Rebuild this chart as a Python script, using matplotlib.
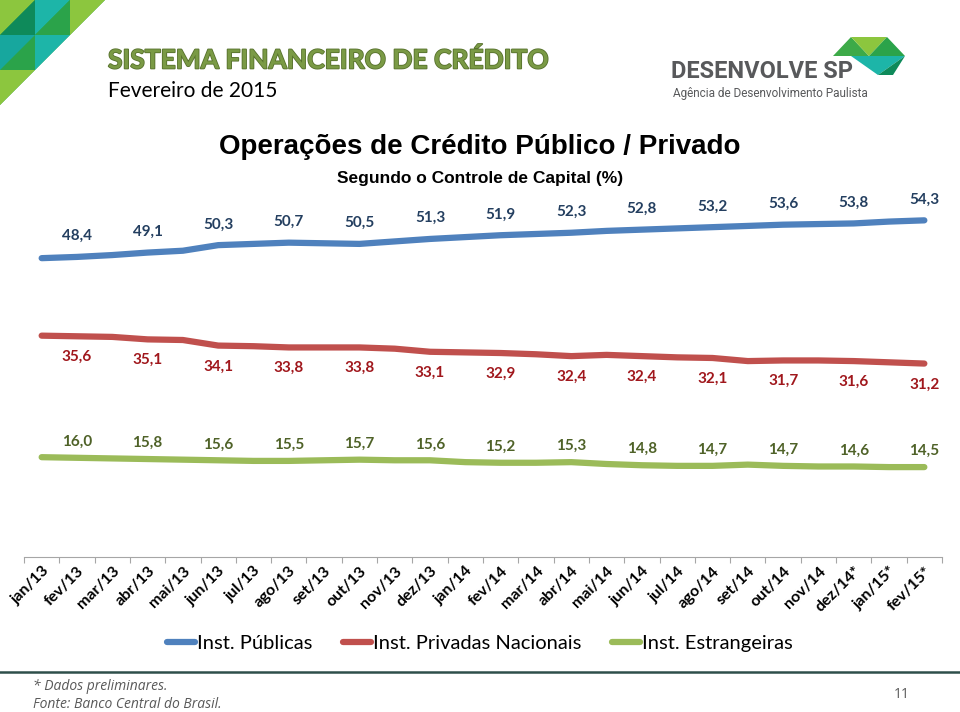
import matplotlib.pyplot as plt
from matplotlib.lines import Line2D
from matplotlib.patches import Polygon
import matplotlib.patheffects as pe

meses = ['jan/13', 'fev/13', 'mar/13', 'abr/13', 'mai/13', 'jun/13', 'jul/13', 'ago/13', 'set/13',
         'out/13', 'nov/13', 'dez/13', 'jan/14', 'fev/14', 'mar/14', 'abr/14', 'mai/14', 'jun/14',
         'jul/14', 'ago/14', 'set/14', 'out/14', 'nov/14', 'dez/14*', 'jan/15*', 'fev/15*']

publicas = [48.2, 48.4, 48.7, 49.1, 49.4, 50.3, 50.5, 50.7, 50.6, 50.5, 50.9, 51.3, 51.6,
            51.9, 52.1, 52.3, 52.6, 52.8, 53.0, 53.2, 53.4, 53.6, 53.7, 53.8, 54.1, 54.3]
privadas = [35.7, 35.6, 35.5, 35.1, 35.0, 34.1, 34.0, 33.8, 33.8, 33.8, 33.6, 33.1, 33.0,
            32.9, 32.7, 32.4, 32.6, 32.4, 32.2, 32.1, 31.6, 31.7, 31.7, 31.6, 31.4, 31.2]
estrangeiras = [16.1, 16.0, 15.9, 15.8, 15.7, 15.6, 15.5, 15.5, 15.6, 15.7, 15.6, 15.6, 15.3,
                15.2, 15.2, 15.3, 15.0, 14.8, 14.7, 14.7, 14.9, 14.7, 14.6, 14.6, 14.5, 14.5]

series = [
    ('Inst. Públicas', publicas, '#4F81BD', '#243F60', 15),
    ('Inst. Privadas Nacionais', privadas, '#C0504D', '#A0171C', -15),
    ('Inst. Estrangeiras', estrangeiras, '#9BBB59', '#4F6228', 11.5),
]

fig = plt.figure(figsize=(9.6, 7.12), dpi=100)

# decoracao em coordenadas de pixel
deco = fig.add_axes([0, 0, 1, 1], zorder=0)
deco.set_xlim(0, 960)
deco.set_ylim(712, 0)
deco.axis('off')

tri = [
    ([(0, 0), (105, 0), (0, 105)], '#2BA34A'),
    ([(0, 0), (35, 0), (0, 35)], '#8CC63E'),
    ([(35, 0), (70, 0), (35, 35)], '#1DB5A8'),
    ([(0, 35), (35, 35), (0, 70)], '#17A79E'),
    ([(35, 35), (35, 0), (0, 35)], '#0E8A5A'),
    ([(70, 0), (105, 0), (70, 35)], '#8CC63E'),
    ([(0, 70), (35, 70), (0, 105)], '#8CC63E'),
    ([(35, 35), (70, 35), (35, 70)], '#1DB5A8'),
    ([(70, 35), (70, 0), (35, 35)], '#2BA34A'),
]
for pts, c in tri:
    deco.add_patch(Polygon(pts, closed=True, color=c, lw=0))

logo = [
    ([(833, 56), (851, 37), (869, 56)], '#3DAA48'),
    ([(851, 37), (887, 37), (869, 56)], '#8CC63E'),
    ([(869, 56), (887, 37), (905, 56)], '#2BA34A'),
    ([(851, 56), (905, 56), (878, 75)], '#1DB5A8'),
    ([(878, 75), (905, 56), (893, 75)], '#0E8A5A'),
]
for pts, c in logo:
    deco.add_patch(Polygon(pts, closed=True, color=c, lw=0))

deco.text(108, 60, 'SISTEMA FINANCEIRO DE CRÉDITO', fontsize=19, fontweight='bold', family='Lato',
          color='#7A9A45', va='center', ha='left',
          path_effects=[pe.withStroke(linewidth=1.2, foreground='#56702C')])
deco.text(108, 91, 'Fevereiro de 2015', fontsize=15, family='Lato', color='black', va='center', ha='left')
deco.text(671, 72, 'DESENVOLVE SP', fontsize=17, fontweight='bold', family='Roboto', color='#58595B',
          va='center', ha='left')
deco.text(673, 93, 'Agência de Desenvolvimento Paulista', fontsize=8.5, family='Roboto', color='#58595B',
          va='center', ha='left')

deco.text(480, 147, 'Operações de Crédito Público / Privado', fontsize=20, fontweight='bold',
          family=['Liberation Sans Narrow', 'Liberation Sans'], color='black', ha='center', va='center')
deco.text(480, 178, 'Segundo o Controle de Capital (%)', fontsize=12.5, fontweight='bold',
          family=['Liberation Sans Narrow', 'Liberation Sans'], color='black', ha='center', va='center')

deco.plot([0, 960], [672, 672], color='#2E4F4A', lw=1.8)
deco.text(33, 686, '* Dados preliminares.', fontsize=10, style='italic', family='Open Sans',
          color='#595959', va='center')
deco.text(33, 705, 'Fonte: Banco Central do Brasil.', fontsize=10, style='italic', family='Open Sans',
          color='#595959', va='center')
deco.text(902, 694, '11', fontsize=10, family='Open Sans', color='#595959', va='center', ha='center')

# grafico
ax = fig.add_axes([24 / 960, (712 - 557) / 712, 918 / 960, 372 / 712], zorder=1)
ax.patch.set_alpha(0)
x = list(range(len(meses)))
handles = []
for nome, vals, cor, cor_txt, dy in series:
    ax.plot(x, vals, color=cor, lw=4.5, solid_capstyle='round', solid_joinstyle='round')
    handles.append(Line2D([0], [0], color=cor, lw=4.5, solid_capstyle='round'))
    for i in range(1, len(vals), 2):
        ax.annotate(f'{vals[i]:.1f}'.replace('.', ','), (i, vals[i]), xytext=(0, dy),
                    textcoords='offset points', ha='center', va='center', fontsize=11,
                    fontweight='bold', family='Lato', color=cor_txt)

ax.set_xlim(-0.5, len(meses) - 0.5)
ax.set_ylim(0, 60)
for s in ['top', 'right', 'left']:
    ax.spines[s].set_visible(False)
ax.spines['bottom'].set_color('#A6A6A6')
ax.set_yticks([])
ax.set_xticks([i - 0.5 for i in range(len(meses) + 1)], minor=False)
ax.set_xticklabels([])
ax.set_xticks(x, minor=True)
ax.set_xticklabels(meses, minor=True, rotation=45, ha='right', rotation_mode='anchor',
                   fontsize=11.5, fontweight='bold', family='Lato', color='black')
ax.tick_params(axis='x', which='major', length=4, color='#A6A6A6', direction='out')
ax.tick_params(axis='x', which='minor', length=0, pad=5)

fig.legend(handles, [s[0] for s in series], loc='center', bbox_to_anchor=(0.5, 1 - 643 / 712),
           ncol=3, frameon=False, handlelength=1.4, handletextpad=0.1,
           columnspacing=1.5, prop={'family': 'Lato', 'size': 14.5})

fig.savefig('out.png', dpi=100)
